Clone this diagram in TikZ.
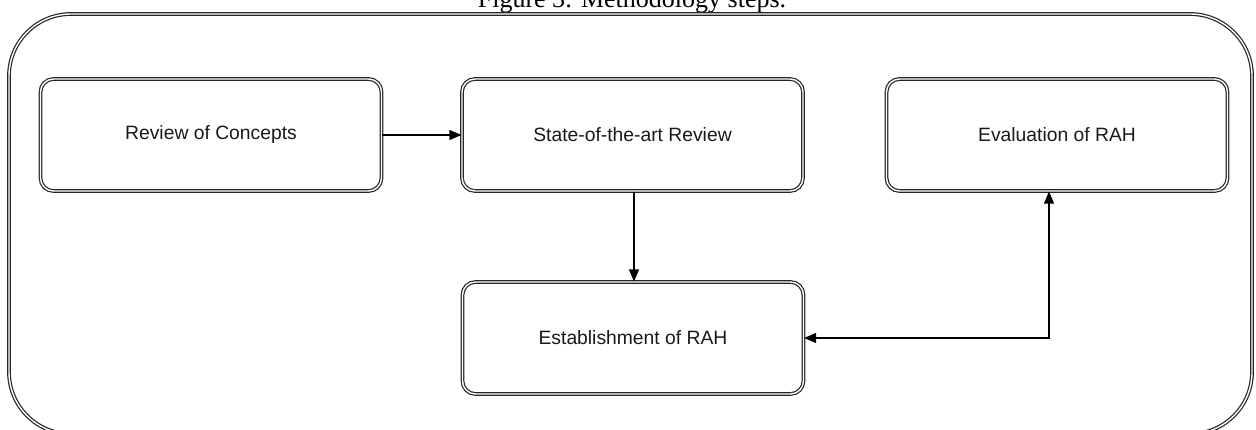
\documentclass[tikz,border=0pt]{standalone}
\usepackage{fontspec}
\setmainfont{Liberation Sans}
\newfontfamily\capfont{Liberation Serif}
\usetikzlibrary{arrows.meta}
\tikzset{
  dbl/.style={draw=black!85, line width=1.2pt, double=white, double distance=1.4pt},
  stepbox/.style={dbl, rounded corners=13pt, minimum width=341pt, minimum height=112pt, inner sep=0pt, font=\fontsize{19.3}{23}\selectfont, text=black!90},
  conn/.style={draw=black, line width=1.3pt, -{Triangle[length=12pt,width=10pt]}},
  conn2/.style={draw=black, line width=1.3pt, {Triangle[length=12pt,width=10pt]}-{Triangle[length=12pt,width=10pt]}}
}
\begin{document}
\begin{tikzpicture}[x=1pt,y=-1pt]
\useasboundingbox (0,0) rectangle (1256,430);
\fill[white] (0,0) rectangle (1256,430);
\node[font=\capfont\fontsize{26}{30}\selectfont, anchor=base, text=black] (cap) at (632,8) {Figure 3: Methodology steps.};
\draw[dbl, rounded corners=62pt] (9,14) rectangle (1252,434);
\node[stepbox] (roc) at (211,135) {Review of Concepts};
\node[stepbox] (sar) at (632.5,135) {State-of-the-art Review};
\node[stepbox] (eval) at (1057,135) {Evaluation of RAH};
\node[stepbox] (est) at (633,338) {Establishment of RAH};
\coordinate (corner) at (1049,338);
\draw[conn] (roc.east) -- (sar.west);
\draw[conn] (sar.south -| 634,0) -- (est.north -| 634,0);
\draw[conn2] (est.east) -- (corner) -- (eval.south -| corner);
\end{tikzpicture}
\end{document}
